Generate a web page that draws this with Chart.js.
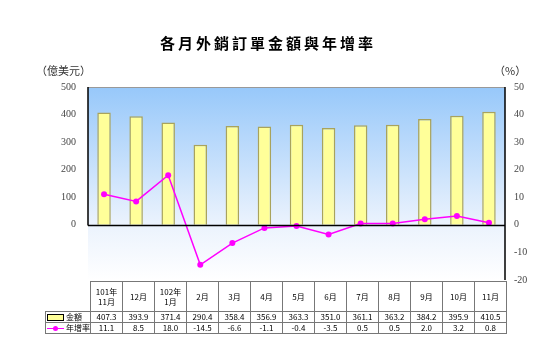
<!DOCTYPE html>
<html>
<head>
<meta charset="utf-8">
<script src="https://cdn.jsdelivr.net/npm/chart.js@4"></script>
<style>
  html, body { margin: 0; padding: 0; background: #fff; }
  #wrap { position: relative; width: 536px; height: 354px; overflow: hidden; }
  #chart { position: absolute; left: 0; top: 0; }
  .lbl { position: absolute; font-family: "Noto Sans CJK TC", sans-serif; color: #000; white-space: nowrap; }
  #title { left: 0; width: 536px; top: 32px; text-align: center; font-size: 15px; font-weight: bold; letter-spacing: 3px; }
  #unitL { left: 36px; top: 62px; font-size: 11px; color: #333; }
  #unitR { left: 494px; top: 62px; font-size: 11px; color: #333; }
  #tbl { position: absolute; left: 45px; top: 281px; border-collapse: collapse; table-layout: fixed;
         font-family: "Noto Sans CJK TC", sans-serif; font-size: 8px; color: #000; }
  #tbl td { border: 1px solid #777; text-align: center; padding: 0; line-height: 10px; overflow: hidden; white-space: nowrap; }
  #tbl tr.hd td { height: 29px; }
  #tbl tr.rw td { height: 10px; }
  #tbl td.first { text-align: left; padding-left: 1px; }
  #tbl tr.hd td.first { border-top: none; border-left: none; }
  .sw { display: inline-block; width: 15px; height: 5px; background: #ffff99; border: 1px solid #000; vertical-align: middle; margin-right: 2px; }
  .ln { display: inline-block; position: relative; width: 17px; height: 1px; background: #ff00ff; vertical-align: middle; margin-right: 2px; }
  .ln::after { content: ""; position: absolute; left: 6px; top: -2px; width: 5px; height: 5px; border-radius: 50%; background: #ff00ff; }
</style>
</head>
<body>
<div id="wrap">
  <canvas id="chart" width="536" height="354"></canvas>
  <div id="title" class="lbl">各月外銷訂單金額與年增率</div>
  <div id="unitL" class="lbl">（億美元）</div>
  <div id="unitR" class="lbl">（%）</div>
  <table id="tbl"></table>
</div>
<script>
const months = [['101年', '11月'], ['12月'], ['102年', '1月'], ['2月'], ['3月'], ['4月'], ['5月'], ['6月'], ['7月'], ['8月'], ['9月'], ['10月'], ['11月']];
const amountLabel = '金額';
const growthLabel = '年增率';
const amounts = [407.3, 393.9, 371.4, 290.4, 358.4, 356.9, 363.3, 351.0, 361.1, 363.2, 384.2, 395.9, 410.5];
const growth = [11.1, 8.5, 18.0, -14.5, -6.6, -1.1, -0.4, -3.5, 0.5, 0.5, 2.0, 3.2, 0.8];

// table under the plot
const tbl = document.getElementById('tbl');
const colFirst = 45, colW = 32;
let html = '<colgroup><col style="width:' + colFirst + 'px">';
months.forEach(() => { html += '<col style="width:' + colW + 'px">'; });
html += '</colgroup><tr class="hd"><td class="first"></td>';
months.forEach(m => { html += '<td>' + m.join('<br>') + '</td>'; });
html += '</tr><tr class="rw"><td class="first"><span class="sw"></span>' + amountLabel + '</td>';
amounts.forEach(v => { html += '<td>' + v.toFixed(1) + '</td>'; });
html += '</tr><tr class="rw"><td class="first"><span class="ln"></span>' + growthLabel + '</td>';
growth.forEach(v => { html += '<td>' + v.toFixed(1) + '</td>'; });
html += '</tr>';
tbl.innerHTML = html;

const frame = {
    id: 'frame',
    beforeDatasetsDraw(chart) {
        const { ctx, chartArea: a } = chart;
        ctx.save();
        const g = ctx.createLinearGradient(0, a.top, 0, a.bottom);
        g.addColorStop(0, '#97c8fa');
        g.addColorStop(0.7, '#eaf2fd');
        g.addColorStop(1, '#ffffff');
        ctx.fillStyle = g;
        ctx.fillRect(a.left, a.top, a.right - a.left, a.bottom - a.top);
        ctx.strokeStyle = '#999';
        ctx.lineWidth = 1;
        ctx.beginPath();
        ctx.moveTo(a.left, a.top + 0.5);
        ctx.lineTo(a.right, a.top + 0.5);
        ctx.stroke();
        ctx.restore();
    },
    afterDatasetsDraw(chart) {
        const { ctx, chartArea: a, scales } = chart;
        const zeroY = Math.round(scales.y.getPixelForValue(0)) + 0.5;
        ctx.save();
        ctx.strokeStyle = '#000';
        ctx.lineWidth = 1.5;
        ctx.beginPath();
        ctx.moveTo(a.left, a.top);
        ctx.lineTo(a.left, zeroY);
        ctx.moveTo(a.left, zeroY);
        ctx.lineTo(a.right, zeroY);
        ctx.moveTo(a.right, a.top);
        ctx.lineTo(a.right, a.bottom);
        ctx.stroke();
        ctx.restore();
    }
};

new Chart(document.getElementById('chart'), {
    data: {
        labels: months.map(m => m.join('')),
        datasets: [
            {
                type: 'line',
                label: growthLabel,
                data: growth,
                yAxisID: 'y1',
                borderColor: '#ff00ff',
                backgroundColor: '#ff00ff',
                borderWidth: 1.5,
                pointRadius: 3,
                pointBorderWidth: 0,
                tension: 0,
                order: 0
            },
            {
                type: 'bar',
                label: amountLabel,
                data: amounts,
                yAxisID: 'y',
                backgroundColor: '#ffff99',
                borderColor: '#a9a35c',
                borderWidth: 1.5,
                barPercentage: 0.42,
                categoryPercentage: 1,
                order: 1
            }
        ]
    },
    options: {
        responsive: false,
        animation: false,
        layout: { padding: { top: 87, bottom: 74, left: 0, right: 0 } },
        plugins: { legend: { display: false }, tooltip: { enabled: false } },
        scales: {
            x: { display: false, offset: true },
            y: {
                position: 'left',
                min: -200, max: 500,
                grid: { display: false },
                border: { display: false },
                afterFit(s) { s.width = 88; },
                ticks: {
                    stepSize: 100,
                    color: '#444',
                    font: { family: 'Liberation Serif', size: 10 },
                    padding: 4,
                    callback: v => (v < 0 ? null : v)
                }
            },
            y1: {
                position: 'right',
                min: -20, max: 50,
                grid: { display: false },
                border: { display: false },
                afterFit(s) { s.width = 31; },
                ticks: {
                    stepSize: 10,
                    color: '#444',
                    font: { family: 'Liberation Serif', size: 10 },
                    padding: 1
                }
            }
        }
    },
    plugins: [frame]
});
</script>
</body>
</html>
